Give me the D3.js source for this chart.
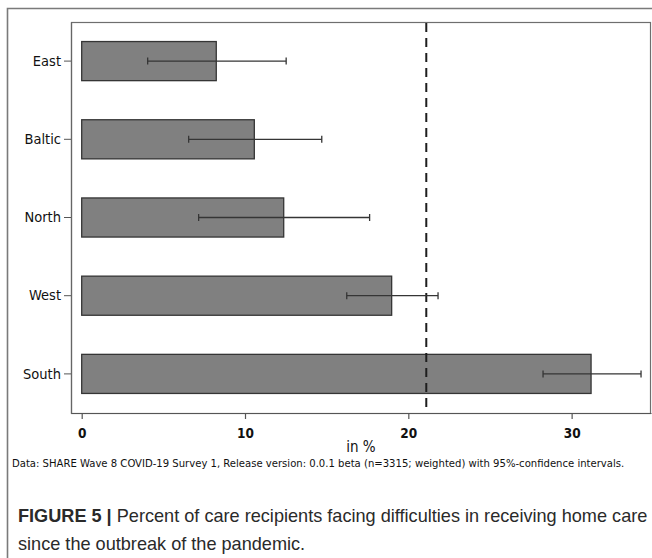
<!DOCTYPE html>
<html>
<head>
<meta charset="utf-8">
<script src="https://cdn.jsdelivr.net/npm/d3@7"></script>
<style>
  html, body { margin: 0; padding: 0; background: #fff; }
  svg { display: block; }
</style>
</head>
<body>
<svg id="chart" width="652" height="558"></svg>
<script>
// Regions and share of care recipients with difficulties (in %), with 95% CI bounds
const regions = ["East", "Baltic", "North", "West", "South"];
const shares  = [8.24, 10.57, 12.37, 18.98, 31.19];
const ciLow   = [4.04, 6.55, 7.16, 16.23, 28.25];
const ciHigh  = [12.52, 14.70, 17.63, 21.82, 34.25];
const overallMean = 21.1;
const xTicks = [0, 10, 20, 30];

const noteText = "Data: SHARE Wave 8 COVID-19 Survey 1, Release version: 0.0.1 beta (n=3315; weighted) with 95%-confidence intervals.";
const captionBold = "FIGURE 5 |";
const captionLine1 = " Percent of care recipients facing difficulties in receiving home care";
const captionLine2 = "since the outbreak of the pandemic.";

const svg = d3.select("#chart");
const plot = { left: 71, top: 22, right: 651, bottom: 413 };
const axisFont = "'DejaVu Sans Condensed', 'DejaVu Sans', sans-serif";

// outer figure frame (open to the right and bottom)
svg.append("path")
  .attr("d", "M7.5,558 L7.5,8.5 L652,8.5")
  .attr("fill", "none").attr("stroke", "#7a7a7a").attr("stroke-width", 1.6);

const x = d3.scaleLinear().domain([-0.655, 34.86]).range([plot.left, plot.right]);
const y = d3.scaleBand().domain(regions).range([plot.top, plot.bottom])
  .paddingInner(0.5).paddingOuter(0.25);

// plot region box
svg.append("rect")
  .attr("x", plot.left + 0.5).attr("y", plot.top + 0.5)
  .attr("width", plot.right - plot.left - 1).attr("height", plot.bottom - plot.top)
  .attr("fill", "none").attr("stroke", "#6e6e6e").attr("stroke-width", 1.2);

// bars
svg.append("g").selectAll("rect").data(regions).join("rect")
  .attr("x", x(0))
  .attr("y", d => y(d))
  .attr("width", (d, i) => x(shares[i]) - x(0))
  .attr("height", y.bandwidth())
  .attr("fill", "#808080")
  .attr("stroke", "#353535").attr("stroke-width", 1.3);

// reference line at the overall share
svg.append("line")
  .attr("x1", x(overallMean)).attr("x2", x(overallMean))
  .attr("y1", plot.top + 1).attr("y2", plot.bottom)
  .attr("stroke", "#1e1e1e").attr("stroke-width", 2)
  .attr("stroke-dasharray", "9,6");

// confidence intervals
const ci = svg.append("g").attr("stroke", "#353535").attr("stroke-width", 1.3);
regions.forEach((r, i) => {
  const cy = y(r) + y.bandwidth() / 2;
  ci.append("line").attr("x1", x(ciLow[i])).attr("x2", x(ciHigh[i])).attr("y1", cy).attr("y2", cy);
  [ciLow[i], ciHigh[i]].forEach(v => {
    ci.append("line").attr("x1", x(v)).attr("x2", x(v)).attr("y1", cy - 3.5).attr("y2", cy + 3.5);
  });
});

// x axis
const xAxis = svg.append("g").attr("transform", `translate(0,${plot.bottom})`)
  .call(d3.axisBottom(x).tickValues(xTicks).tickSize(6).tickPadding(7).tickSizeOuter(0));
xAxis.select(".domain").attr("stroke", "#555").attr("stroke-width", 1.2);
xAxis.selectAll(".tick line").attr("stroke", "#555").attr("stroke-width", 1.2);
xAxis.selectAll(".tick text")
  .attr("font-family", axisFont).attr("font-size", 13.5).attr("font-weight", "bold")
  .attr("fill", "#111").attr("dy", "0.9em");

// y axis
const yAxis = svg.append("g").attr("transform", `translate(${plot.left},0)`)
  .call(d3.axisLeft(y).tickSize(7).tickPadding(3).tickSizeOuter(0));
yAxis.select(".domain").attr("stroke", "#666").attr("stroke-width", 1.2);
yAxis.selectAll(".tick line").attr("stroke", "#555").attr("stroke-width", 1);
yAxis.selectAll(".tick text")
  .attr("font-family", axisFont).attr("font-size", 14.5).attr("fill", "#111");

// axis title
svg.append("text")
  .attr("x", (plot.left + plot.right) / 2).attr("y", 452)
  .attr("text-anchor", "middle")
  .attr("font-family", axisFont).attr("font-size", 15).attr("fill", "#111")
  .text("in %");

// data note, sized to span its line
const note = svg.append("text")
  .attr("x", 12).attr("y", 467)
  .attr("font-family", axisFont).attr("font-size", 11).attr("fill", "#111")
  .text(noteText);
const noteW = note.node().getComputedTextLength();
note.attr("font-size", 11 * 613 / noteW);

// figure caption
const capFont = "'Liberation Sans', Arial, sans-serif";
const cap1 = svg.append("text")
  .attr("x", 18).attr("y", 522)
  .attr("font-family", capFont).attr("font-size", 19).attr("fill", "#2a2a2a");
cap1.append("tspan").attr("font-weight", "bold").text(captionBold);
cap1.append("tspan").text(captionLine1);
const capW = cap1.node().getComputedTextLength();
const capSize = 19 * 630 / capW;
cap1.attr("font-size", capSize);
svg.append("text")
  .attr("x", 18).attr("y", 550)
  .attr("font-family", capFont).attr("font-size", capSize).attr("fill", "#2a2a2a")
  .text(captionLine2);
</script>
</body>
</html>
